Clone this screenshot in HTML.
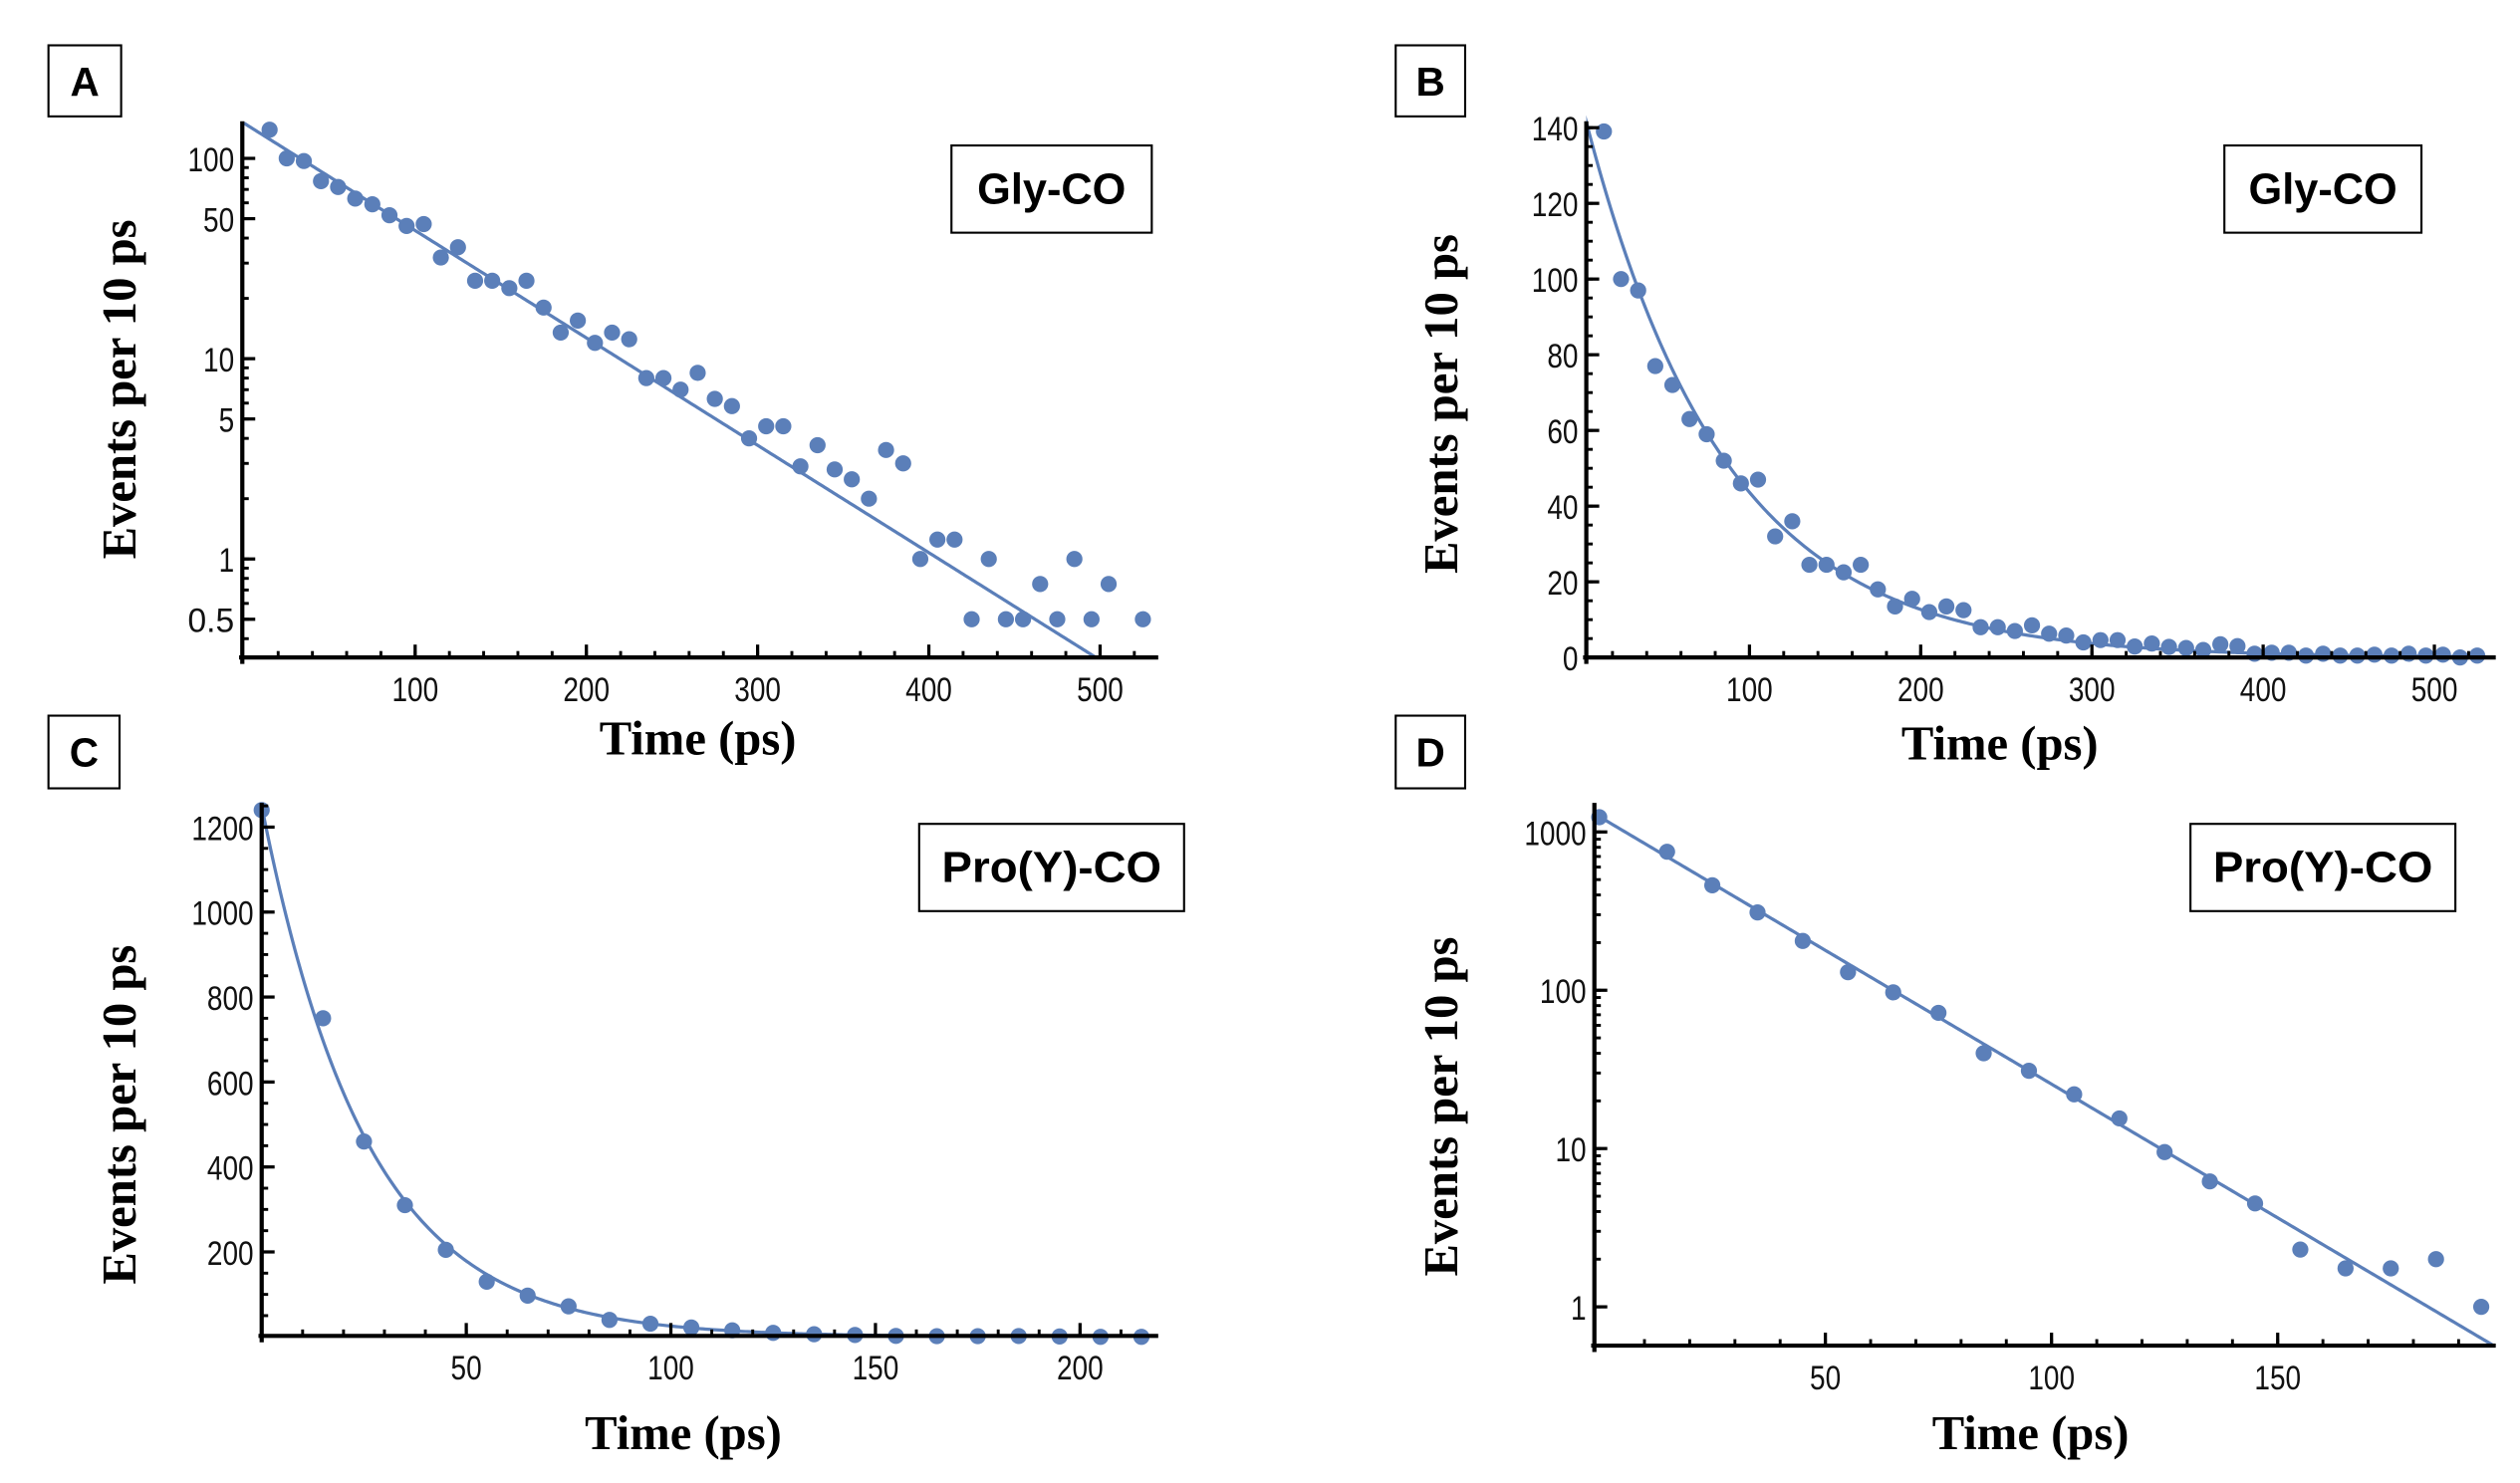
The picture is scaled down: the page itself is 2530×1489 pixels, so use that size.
<!DOCTYPE html>
<html><head><meta charset="utf-8"><style>
html,body{margin:0;padding:0;background:#fff;}
svg{display:block;}
.tk{font-family:"Liberation Sans",sans-serif;font-size:21px;fill:#111;}
.ax{font-family:"Liberation Serif",serif;font-weight:bold;font-size:30px;fill:#000;}
.bx{font-family:"Liberation Sans",sans-serif;font-weight:bold;fill:#000;}
</style></head><body>
<svg id="fig" width="2530" height="1489" viewBox="0 0 1560 918" xmlns="http://www.w3.org/2000/svg"></svg>
<script>
const glyTimes=[15,25,35,45,55,65,75,85,95,105,115,125,135,145,155,165,175,185,195,205,215,225,235,245,255,265,275,285,295,305,315,325,335,345,355,365,375,385,395,405,415,425,435,445,455,465,475,485,495,505,515,525];
const glyCounts=[139,100,97,77,72,63,59,52,46,47,32,36,24.5,24.5,22.5,24.5,18,13.5,15.5,12,13.5,12.5,8,8,7,8.5,6.3,5.8,4,4.6,4.6,2.9,3.7,2.8,2.5,2,3.5,3,1,1.25,1.25,0.5,1,0.5,0.5,0.75,0.5,1,0.5,0.75,0,0.5];
const proTimes=[0,15,25,35,45,55,65,75,85,95,105,115,125,135,145,155,165,175,185,195,205,215];
const proCounts=[1240,750,460,310,205,130,97,72,40,31,22,15.5,9.5,6.2,4.5,2.3,1.75,1.75,2,1,0,0];
const glyFit=[150,81];
const proFit=[1250,25.7];
const aYTicks=[100,50,10,5,1,0.5];
const bYTicks=[0,20,40,60,80,100,120,140];
const cYTicks=[200,400,600,800,1000,1200];
const dYTicks=[1,10,100,1000];
const glyXTicks=[100,200,300,400,500];
const proXTicks=[50,100,150,200];
const proXTicksD=[50,100,150];

const NS="http://www.w3.org/2000/svg";
const svg=document.getElementById('fig');
function mk(tag,attrs,parent){const e=document.createElementNS(NS,tag);for(const k in attrs)e.setAttribute(k,attrs[k]);(parent||svg).appendChild(e);return e;}
const COL="#5b7fb9";
function tw(s){return String(s).length*9.6;}

function panel(id,P){
  const g=mk('g',{});
  
  
  const cp=mk('clipPath',{id:'clip-'+id},g);
  mk('rect',{x:P.x0,y:P.top-10,width:P.xEnd-P.x0,height:P.y0-P.top+10},cp);
  let d='';
  for(let i=0;i<=400;i++){const t=P.tStart+(P.tMax-P.tStart)*i/400;const v=P.fit[0]*Math.exp(-t/P.fit[1]);if(P.log&&v<=0)continue;d+=(d?'L':'M')+P.sx(t).toFixed(2)+','+P.sy(v).toFixed(2);}
  const fit=mk('path',{d:d,fill:'none',stroke:COL,'stroke-width':2,'clip-path':'url(#clip-'+id+')'},g);
  
  
  for(let i=0;i<P.times.length;i++){
    const v=P.counts[i];
    if(P.log&&v<=0)continue;
    const c=mk('circle',{cx:P.sx(P.times[i]),cy:P.sy(v),r:5,fill:COL},g);
    
    
  }
  const ya=mk('line',{x1:P.x0,y1:P.top,x2:P.x0,y2:P.y0+4,stroke:'#000','stroke-width':2.6},g);
  
  
  const xa=mk('line',{x1:P.x0-2,y1:P.y0,x2:P.xEnd,y2:P.y0,stroke:'#000','stroke-width':2.6},g);
  
  
  for(const t of P.xMinor){const x=P.sx(t);if(x<=P.x0+1||x>P.xEnd)continue;mk('line',{x1:x,y1:P.y0,x2:x,y2:P.y0-4,stroke:'#000','stroke-width':1.8},g);}
  for(const t of P.xTicks){const x=P.sx(t);mk('line',{x1:x,y1:P.y0,x2:x,y2:P.y0-8,stroke:'#000','stroke-width':2},g);
    const tx=mk('text',{x:x,y:P.y0+27,'text-anchor':'middle',class:'tk',textLength:tw(t),lengthAdjust:'spacingAndGlyphs'},g);tx.textContent=t;
    
    }
  for(const v of P.yMinor){const y=P.sy(v);if(y<P.top||y>P.y0)continue;mk('line',{x1:P.x0,y1:y,x2:P.x0+4,y2:y,stroke:'#000','stroke-width':1.8},g);}
  for(const v of P.yTicks){const y=P.sy(v);mk('line',{x1:P.x0,y1:y,x2:P.x0+8,y2:y,stroke:'#000','stroke-width':2},g);
    const tx=mk('text',{x:P.x0-5,y:y+8,'text-anchor':'end',class:'tk',textLength:tw(v),lengthAdjust:'spacingAndGlyphs'},g);tx.textContent=v;
    
    }
  const xt=mk('text',{x:P.xl[0],y:P.xl[1],'text-anchor':'middle',class:'ax'},g);xt.textContent='Time (ps)';
  
  
  const yt=mk('text',{x:0,y:0,'text-anchor':'middle',class:'ax',transform:'translate('+P.yl[0]+','+P.yl[1]+') rotate(-90)'},g);yt.textContent='Events per 10 ps';
  
  
  mk('rect',{x:P.lb[0],y:P.lb[1],width:P.lb[2],height:P.lb[3],fill:'#fff',stroke:'#000','stroke-width':1.3},g);
  const lt=mk('text',{x:P.lb[0]+P.lb[2]/2,y:P.lb[1]+P.lb[3]/2+9,'text-anchor':'middle',class:'bx','font-size':25},g);lt.textContent=P.letter;
  
  
  mk('rect',{x:P.bb[0],y:P.bb[1],width:P.bb[2],height:P.bb[3],fill:'#fff',stroke:'#000','stroke-width':1.3},g);
  const bt=mk('text',{x:P.bb[0]+P.bb[2]/2,y:P.bb[1]+P.bb[3]/2+9,'text-anchor':'middle',class:'bx','font-size':27,textLength:P.bb[4],lengthAdjust:'spacingAndGlyphs'},g);bt.textContent=P.label;
  
  
}
function range(a,b,s){const r=[];for(let v=a;v<=b+1e-9;v+=s)r.push(v);return r;}
function logMinor(lo,hi){const r=[];for(let e=lo;e<=hi;e++)for(let m=1;m<10;m++)r.push(m*Math.pow(10,e));return r;}

panel('panel-a',{times:glyTimes,counts:glyCounts,fit:glyFit,log:true,tStart:0,tMax:530,
  sx:t=>151+t*1.06,sy:v=>346-Math.log10(v)*124,x0:150,y0:407,top:75,xEnd:717,
  xTicks:glyXTicks,xMinor:range(20,520,20),yTicks:aYTicks,yMinor:logMinor(-1,2),
  xl:[432,467],yl:[84,241],lb:[30,28,45,44],letter:'A',bb:[589,90,124,54,92],label:'Gly-CO'});
panel('panel-b',{times:glyTimes,counts:glyCounts,fit:glyFit,log:false,tStart:3,tMax:530,
  sx:t=>977+t*1.06,sy:v=>407-v*2.343,x0:982,y0:407,top:75,xEnd:1545,
  xTicks:glyXTicks,xMinor:range(20,520,20),yTicks:bYTicks,yMinor:range(5,145,5),
  xl:[1238,470],yl:[902,250],lb:[864,28,43,44],letter:'B',bb:[1377,90,122,54,92],label:'Gly-CO'});
panel('panel-c',{times:proTimes,counts:proCounts,fit:proFit,log:false,tStart:0,tMax:218,
  sx:t=>162+t*2.533,sy:v=>827.6-v*0.263,x0:162,y0:827,top:497,xEnd:717,
  xTicks:proXTicks,xMinor:range(10,210,10),yTicks:cYTicks,yMinor:range(50,1250,50),
  xl:[423,897],yl:[84,690],lb:[30,443,44,45],letter:'C',bb:[569,510,164,54,136],label:'Pro(Y)-CO'});
panel('panel-d',{times:proTimes,counts:proCounts,fit:proFit,log:true,tStart:0,tMax:200,
  sx:t=>990+t*2.8,sy:v=>809-Math.log10(v)*98,x0:987,y0:833,top:497,xEnd:1545,
  xTicks:proXTicksD,xMinor:range(10,190,10),yTicks:dYTicks,yMinor:logMinor(0,3),
  xl:[1257,897],yl:[902,685],lb:[864,443,43,45],letter:'D',bb:[1356,510,164,54,136],label:'Pro(Y)-CO'});
</script>
</body></html>
